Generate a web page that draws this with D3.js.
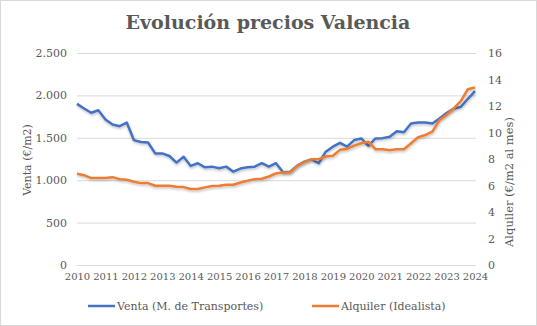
<!DOCTYPE html>
<html><head><meta charset="utf-8">
<script src="https://cdn.jsdelivr.net/npm/d3@7"></script>
<style>body{margin:0;background:#fff}svg{display:block}</style>
</head><body><svg id="c" width="537" height="326"></svg>
<script>
const years = ["2010","2011","2012","2013","2014","2015","2016","2017","2018","2019","2020","2021","2022","2023","2024"];
const venta = [1900,1845,1795,1825,1715,1656,1637,1680,1473,1450,1445,1316,1316,1285,1207,1277,1168,1200,1152,1160,1140,1160,1100,1137,1152,1160,1200,1160,1200,1094,1100,1172,1219,1246,1200,1336,1395,1441,1395,1473,1492,1406,1492,1496,1512,1578,1566,1668,1680,1680,1668,1727,1793,1844,1863,1960,2050];
const alquiler = [6.88,6.78,6.56,6.56,6.56,6.63,6.48,6.43,6.28,6.18,6.18,5.98,5.98,5.98,5.91,5.88,5.73,5.73,5.86,5.96,5.98,6.06,6.06,6.23,6.36,6.48,6.51,6.68,6.91,6.99,6.99,7.49,7.76,7.99,7.99,8.19,8.24,8.69,8.76,9.01,9.19,9.31,8.74,8.74,8.66,8.74,8.74,9.19,9.64,9.81,10.07,10.94,11.32,11.82,12.37,13.27,13.39];
const leftTicks = [0,500,1000,1500,2000,2500];
const rightTicks = [0,2,4,6,8,10,12,14,16];

const svg = d3.select("#c");
const W=537,H=326;
const font = "'DejaVu Serif', serif";
const grey = "#595959";
svg.append("rect").attr("x",0.5).attr("y",0.5).attr("width",W-1).attr("height",H-1).attr("fill","#fff").attr("stroke","#d9d9d9");

const x0=77,x1=475,yTop=53,yBot=265;
const x = d3.scaleLinear().domain([0,venta.length-1]).range([x0,x1]);
const yL = d3.scaleLinear().domain([0,2500]).range([yBot,yTop]);
const yR = d3.scaleLinear().domain([0,16]).range([yBot,yTop]);

// gridlines
svg.append("g").selectAll("line").data(leftTicks).join("line")
  .attr("x1",x0).attr("x2",x1+1).attr("y1",d=>yL(d)+0.5).attr("y2",d=>yL(d)+0.5)
  .attr("stroke","#d9d9d9").attr("stroke-width",1);

const fmt = d => d3.format(",")(d).replace(/,/g,".");
const gl = svg.append("g").attr("transform",`translate(${x0},0)`)
  .call(d3.axisLeft(yL).tickValues(leftTicks).tickFormat(fmt).tickSize(0).tickPadding(10));
const gr = svg.append("g").attr("transform",`translate(${x1},0)`)
  .call(d3.axisRight(yR).tickValues(rightTicks).tickSize(0).tickPadding(13));
const xb = d3.scalePoint().domain(years).range([x0,x1]);
const gb = svg.append("g").attr("transform",`translate(0,${yBot})`)
  .call(d3.axisBottom(xb).tickSize(0).tickPadding(8));
[gl,gr,gb].forEach(g=>{g.select(".domain").remove();g.selectAll("text").attr("fill",grey).style("font-family",font).style("font-size","11px");});
gb.selectAll("text").style("font-size","10px");

// shadow
const defs = svg.append("defs");
const f = defs.append("filter").attr("id","sh").attr("x","-5%").attr("y","-5%").attr("width","110%").attr("height","120%");
f.append("feDropShadow").attr("dx",0.5).attr("dy",1.5).attr("stdDeviation",1).attr("flood-color","#000").attr("flood-opacity",0.25);

const lineL = d3.line().x((d,i)=>x(i)).y(d=>yL(d));
const lineR = d3.line().x((d,i)=>x(i)).y(d=>yR(d));
svg.append("path").datum(venta).attr("d",lineL).attr("fill","none").attr("stroke","#4472C4").attr("stroke-width",2.5).attr("stroke-linejoin","round").attr("filter","url(#sh)");
svg.append("path").datum(alquiler).attr("d",lineR).attr("fill","none").attr("stroke","#ED7D31").attr("stroke-width",2.5).attr("stroke-linejoin","round").attr("filter","url(#sh)");

// title
svg.append("text").attr("x",268).attr("y",29).attr("text-anchor","middle")
  .style("font-family",font).style("font-weight","bold").style("font-size","19px").attr("fill",grey)
  .text("Evolución precios Valencia");

// axis titles
svg.append("text").attr("transform",`translate(31,160) rotate(-90)`).attr("text-anchor","middle")
  .style("font-family",font).style("font-size","11px").attr("fill",grey).text("Venta (€/m2)");
svg.append("text").attr("transform",`translate(513,182) rotate(-90)`).attr("text-anchor","middle")
  .style("font-family",font).style("font-size","11.5px").attr("fill",grey).text("Alquiler (€/m2 al mes)");

// legend
const leg = [{n:"Venta (M. de Transportes)",c:"#4472C4",x:88},{n:"Alquiler (Idealista)",c:"#ED7D31",x:312}];
const lg = svg.append("g").selectAll("g").data(leg).join("g").attr("transform",d=>`translate(${d.x},306)`);
lg.append("line").attr("x1",0).attr("x2",27).attr("stroke",d=>d.c).attr("stroke-width",2.5);
lg.append("text").attr("x",29).attr("y",4).style("font-family",font).style("font-size","11px").attr("fill",grey).text(d=>d.n);
</script></body></html>
